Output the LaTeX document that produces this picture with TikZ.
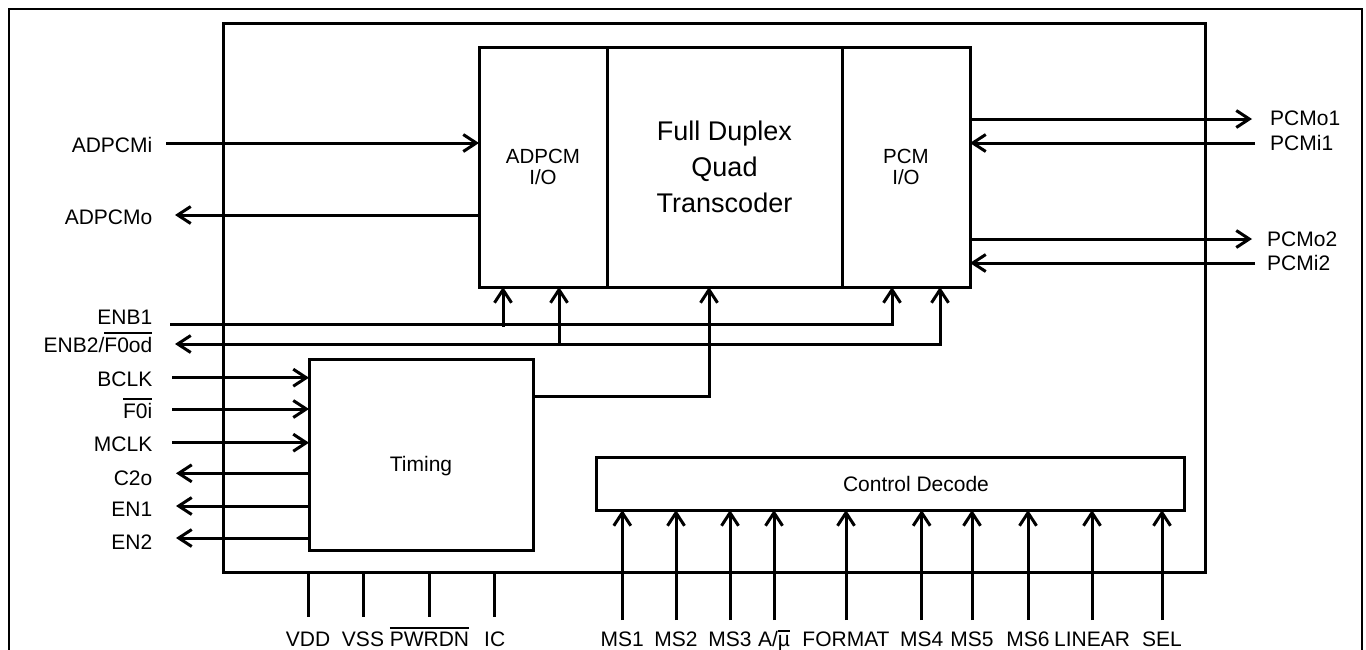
\documentclass[tikz,border=0pt]{standalone}
\usepackage{fontspec}
\setmainfont{Liberation Sans}
\usetikzlibrary{arrows.meta, positioning, calc}

\newcommand{\ovl}[1]{\vbox{\hrule height 1.8pt\kern 2.8pt\hbox{#1}}}

\begin{document}
\begin{tikzpicture}[
  x=1pt, y=-1pt,
  font=\fontsize{21}{24}\selectfont,
  blk/.style={rectangle, draw, line width=3pt, inner sep=0pt, outer sep=0pt,
              anchor=north west},
  wire/.style={line width=3pt},
  arr/.style={wire, -{Straight Barb[length=13pt, width=17pt]}},
  arrs/.style={wire, {Straight Barb[length=13pt, width=17pt]}-{Straight Barb[length=13pt, width=17pt]}},
  pinl/.style={anchor=base east, inner sep=0pt},
  pinr/.style={anchor=base west, inner sep=0pt},
  pinb/.style={anchor=base, inner sep=0pt}
]
\useasboundingbox (0,0) rectangle (1366,649);

% --- Frame and chip outline ---
\draw[line width=2pt] (9,9) rectangle (1362,700);
\node[blk, minimum width=982pt, minimum height=549pt] (chip) at (223,23) {};

% --- Blocks ---
\node[blk, minimum width=128pt, minimum height=240pt, align=center,
      font=\fontsize{20.5}{21.5}\selectfont] (adio) at (479,47) {ADPCM\\I/O};
\node[blk, minimum width=235pt, minimum height=240pt, align=center,
      font=\fontsize{27}{36}\selectfont] (fdq) at (607,47) {Full Duplex\\Quad\\Transcoder};
\node[blk, minimum width=128pt, minimum height=240pt, align=center,
      font=\fontsize{20.5}{21.5}\selectfont] (pcmio) at (842,47) {PCM\\I/O};
\node[blk, minimum width=224pt, minimum height=191pt,
      label={[yshift=-12pt]center:Timing}] (timing) at (309,359) {};
\node[blk, minimum width=588pt, minimum height=53pt,
      label={[xshift=26pt]center:Control Decode}] (ctrl) at (596,457) {};

% --- ADPCM side ---
\coordinate (adpcmi) at (166,143);
\coordinate (adpcmo) at (175,215);
\draw[arr] (adpcmi) -- (adpcmi -| adio.west);
\draw[arr] (adpcmo -| adio.west) -- (adpcmo);
\node[pinl] (l-adpcmi) at (152.5,152.7) {ADPCMi};
\node[pinl] (l-adpcmo) at (152.5,224) {ADPCMo};

% --- PCM side ---
\foreach \y/\n in {119/pcmo1, 239/pcmo2}
  {\coordinate (\n) at (1252,\y);
   \draw[arr] (\n -| pcmio.east) -- (\n);}
\foreach \y/\n in {143/pcmi1, 263/pcmi2}
  {\coordinate (\n) at (1255,\y);
   \draw[arr] (\n) -- (\n -| pcmio.east);}
\node[pinr] (l-pcmo1) at (1270,125.7) {PCMo1};
\node[pinr] (l-pcmi1) at (1270,150) {PCMi1};
\node[pinr] (l-pcmo2) at (1267,246) {PCMo2};
\node[pinr] (l-pcmi2) at (1267,270) {PCMi2};

% --- Enables ---
\coordinate (enb1) at (170,324);
\coordinate (enb2) at (175,344);
\coordinate (e1r) at (892,324);
\coordinate (e1a) at (503,324);
\coordinate (e2r) at (940,344);
\coordinate (e2a) at (559,344);
\draw[arr] (enb1) -- (e1r) -- (e1r |- pcmio.south);
\draw[arr] ([yshift=-2.5pt]e1a) -- (e1a |- adio.south);
\draw[arrs] (e2r |- pcmio.south) -- (e2r) -- (enb2);
\draw[arr] (e2a) -- (e2a |- adio.south);
\node[pinl] (l-enb1) at (152.5,324) {ENB1};
\node[pinl] (l-enb2) at (152.5,352) {ENB2/\ovl{F0od}};

% --- Timing ---
\coordinate (tq) at (709,396);
\draw[arr] (tq -| timing.east) -- (tq) -- (tq |- fdq.south);
\foreach \y/\n in {377.7/bclk, 409/f0i, 442.7/mclk}
  {\coordinate (\n) at (172,\y);
   \draw[arr] (\n) -- (\n -| timing.west);}
\foreach \y/\n in {473.3/c2o, 506/en1, 538/en2}
  {\coordinate (\n) at (176,\y);
   \draw[arr] (\n -| timing.west) -- (\n);}
\foreach \y/\n/\t in {386/bclk/BCLK, 418.3/f0i/{\ovl{F0i}}, 451.7/mclk/MCLK,
                      485/c2o/C2o, 516.7/en1/EN1, 549.3/en2/EN2}
  \node[pinl] (l-\n) at (152.5,\y) {\t};

% --- Bottom pins ---
\foreach \x/\n/\t in {308/vdd/VDD, 363/vss/VSS, 429.5/pwrdn/{\ovl{PWRDN}}, 494.7/ic/IC}
  {\coordinate (\n) at (\x,617);
   \draw[wire] (\n |- chip.south) -- (\n);
   \node[pinb] (l-\n) at (\x,646) {\t};}
\foreach \x/\n/\t in {622.3/ms1/MS1, 676/ms2/MS2, 730/ms3/MS3, 774/amu/{A/\ovl{µ}},
                      846/format/FORMAT, 921.7/ms4/MS4, 972/ms5/MS5, 1028/ms6/MS6,
                      1092/linear/LINEAR, 1162/sel/SEL}
  {\coordinate (\n) at (\x,620);
   \draw[arr] (\n) -- (\n |- ctrl.south);
   \node[pinb] (l-\n) at (\x,646) {\t};}

\end{tikzpicture}
\end{document}
